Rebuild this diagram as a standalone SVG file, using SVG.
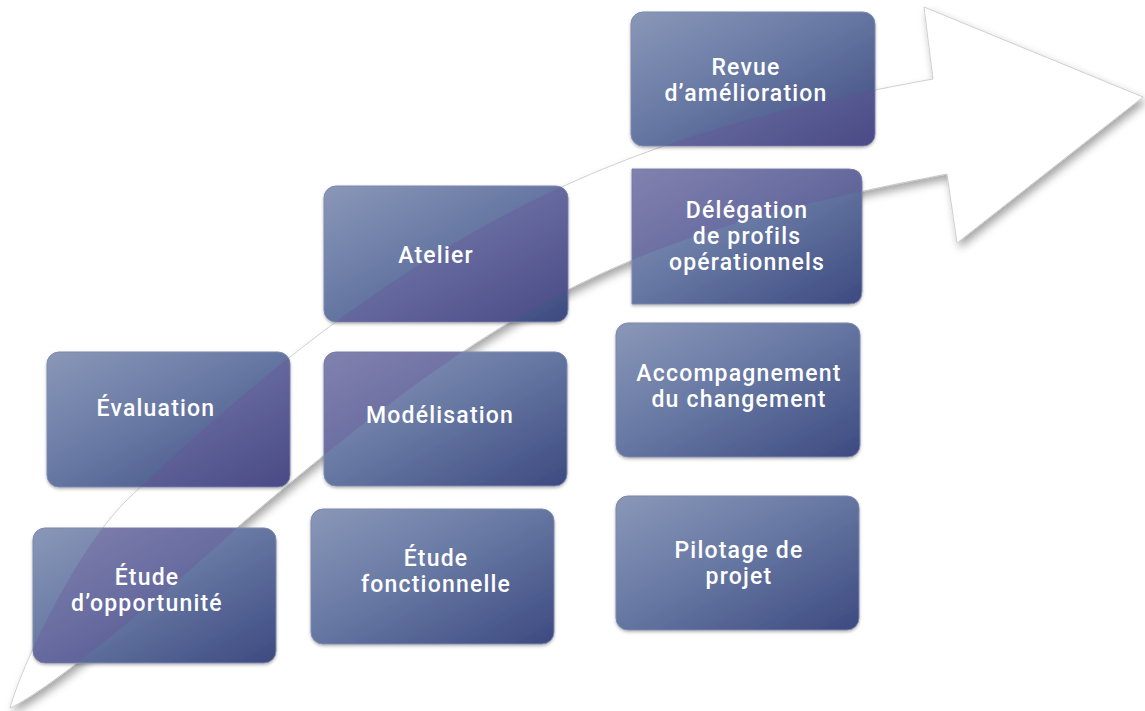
<svg xmlns="http://www.w3.org/2000/svg" width="1145" height="711" viewBox="0 0 1145 711">
  <defs>
    <linearGradient id="boxGrad" x1="0" y1="0" x2="1" y2="1">
      <stop offset="0" stop-color="#8a97b8"/>
      <stop offset="0.45" stop-color="#6879a4"/>
      <stop offset="1" stop-color="#3d4a80"/>
    </linearGradient>
    <filter id="arrowShadow" x="-5%" y="-5%" width="115%" height="115%">
      <feDropShadow dx="3" dy="5" stdDeviation="4" flood-color="#000" flood-opacity="0.35"/>
    </filter>
    <filter id="boxShadow" x="-5%" y="-5%" width="115%" height="115%">
      <feDropShadow dx="0" dy="1.5" stdDeviation="1.5" flood-color="#000" flood-opacity="0.3"/>
    </filter>
    <path id="arrowShape" d="M10,708 C20,670 75,549 130,497 C430,212 633,133 933,79 L924,7 L1143,97 L957,243 L947,174 C627,235 510,295.5 240,525 C170,590 50,690 10,708 Z"/>
    <clipPath id="boxClip">
      <rect x="33" y="528" width="243" height="135" rx="12"/>
      <rect x="47" y="352" width="243" height="135" rx="12"/>
      <rect x="311" y="509" width="243" height="135" rx="12"/>
      <rect x="324" y="352" width="243" height="134" rx="12"/>
      <rect x="324" y="186" width="244" height="136" rx="12"/>
      <rect x="616" y="496" width="243" height="134" rx="12"/>
      <rect x="616" y="323" width="244" height="134" rx="12"/>
      <path d="M632,169 H849 Q862,169 862,182 V291 Q862,304 849,304 H632 Z"/>
      <rect x="631" y="12" width="244" height="134" rx="12"/>
    </clipPath>
  </defs>
  <style>
    .box { fill: url(#boxGrad); stroke: #7d89ad; stroke-width: 1; filter: url(#boxShadow); }
    .lbl { font-family: Roboto, "Open Sans", "DejaVu Sans", sans-serif; font-weight: 500; font-size: 23px; letter-spacing: 1.2px; fill: #ffffff; text-anchor: middle; }
  </style>

  <g id="connectors">
    <use href="#arrowShape" fill="#ffffff" stroke="#c4c4c4" stroke-width="0.8" filter="url(#arrowShadow)"/>
  </g>

  <g id="node-etude-opportunite">
    <rect class="box" x="33" y="528" width="243" height="135" rx="12"/>
  </g>
  <g id="node-evaluation">
    <rect class="box" x="47" y="352" width="243" height="135" rx="12"/>
  </g>
  <g id="node-etude-fonctionnelle">
    <rect class="box" x="311" y="509" width="243" height="135" rx="12"/>
  </g>
  <g id="node-modelisation">
    <rect class="box" x="324" y="352" width="243" height="134" rx="12"/>
  </g>
  <g id="node-atelier">
    <rect class="box" x="324" y="186" width="244" height="136" rx="12"/>
  </g>
  <g id="node-pilotage">
    <rect class="box" x="616" y="496" width="243" height="134" rx="12"/>
  </g>
  <g id="node-accompagnement">
    <rect class="box" x="616" y="323" width="244" height="134" rx="12"/>
  </g>
  <g id="node-delegation">
    <path class="box" d="M632,169 H849 Q862,169 862,182 V291 Q862,304 849,304 H632 Z"/>
  </g>
  <g id="node-revue">
    <rect class="box" x="631" y="12" width="244" height="134" rx="12"/>
  </g>

  <g id="arrow-tint" clip-path="url(#boxClip)">
    <use href="#arrowShape" fill="#6a4c96" fill-opacity="0.28"/>
  </g>

  <g id="labels">
    <text class="lbl" x="147" y="585">Étude</text>
    <text class="lbl" x="147" y="611">d’opportunité</text>
    <text class="lbl" x="156" y="416">Évaluation</text>
    <text class="lbl" x="436" y="566">Étude</text>
    <text class="lbl" x="436" y="592">fonctionnelle</text>
    <text class="lbl" x="440" y="423">Modélisation</text>
    <text class="lbl" x="436" y="263">Atelier</text>
    <text class="lbl" x="739" y="558">Pilotage de</text>
    <text class="lbl" x="739" y="584">projet</text>
    <text class="lbl" x="739" y="381">Accompagnement</text>
    <text class="lbl" x="739" y="407">du changement</text>
    <text class="lbl" x="747" y="218">Délégation</text>
    <text class="lbl" x="747" y="244">de profils</text>
    <text class="lbl" x="747" y="270">opérationnels</text>
    <text class="lbl" x="746" y="75">Revue</text>
    <text class="lbl" x="746" y="101">d’amélioration</text>
  </g>
</svg>
